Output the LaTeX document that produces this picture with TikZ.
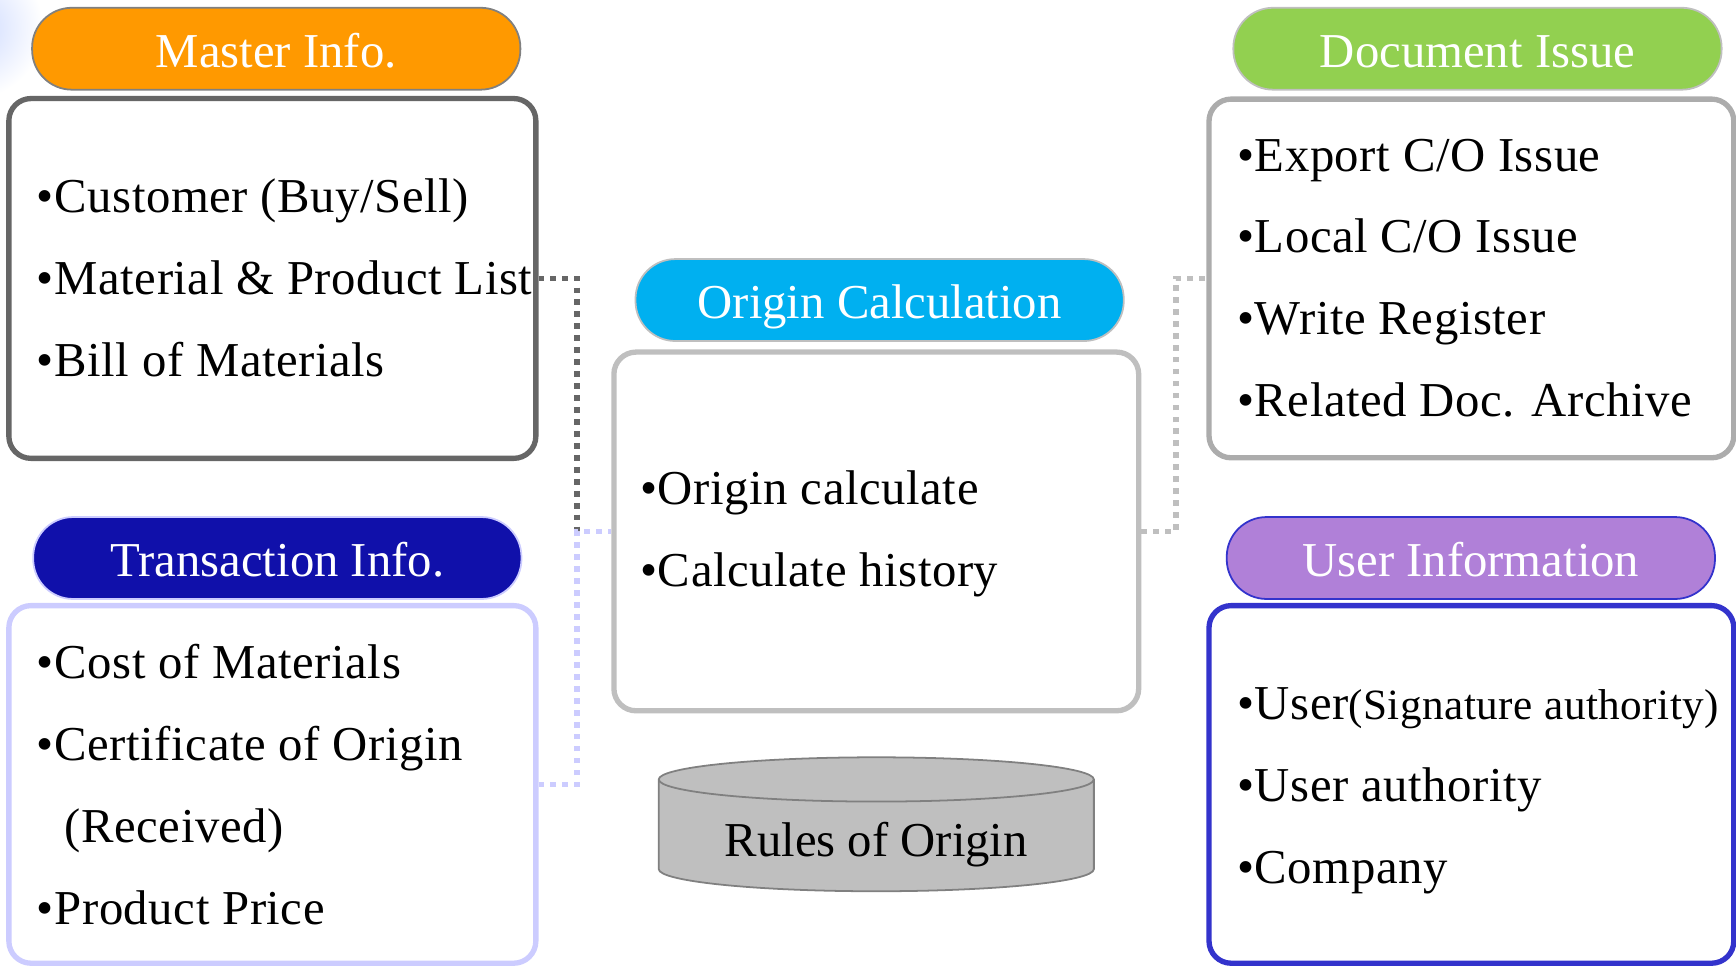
\documentclass[tikz,border=0pt]{standalone}
\usepackage{fontspec}
\setmainfont{Liberation Serif}
\newfontfamily\itemfont[LetterSpace=1.2]{Liberation Serif}
\usepackage{tikz}
\usetikzlibrary{positioning}

\definecolor{masterfill}{HTML}{FF9900}
\definecolor{transfill}{HTML}{1010AA}
\definecolor{calcfill}{HTML}{00B0F0}
\definecolor{docfill}{HTML}{92D050}
\definecolor{userfill}{HTML}{B080D8}
\definecolor{userline}{HTML}{3333CC}
\definecolor{transline}{HTML}{CCCCFF}
\definecolor{darkline}{HTML}{666666}
\definecolor{lightline}{HTML}{BFBFBF}

\begin{document}
\begin{tikzpicture}[x=0.5pt, y=-0.5pt,
	every node/.style={font=\fontsize{22}{26}\selectfont},
	pill/.style={draw, line width=0.8pt, rounded corners=18pt, minimum width=220.5pt,
		minimum height=37pt, inner sep=0pt, text height=17pt, text depth=0pt, text=white},
	panel/.style={draw, line width=2.4pt, fill=white, rounded corners=10pt,
		minimum width=237pt, minimum height=162pt, inner sep=0pt},
	item/.style={anchor=base west, inner sep=0pt, font=\itemfont\fontsize{22}{26}\selectfont},
	link/.style={line width=2.6pt, dash pattern=on 2.6pt off 2.8pt}]
	\useasboundingbox (0,0) rectangle (1568,873);
	% faint glow in the corner
	\begin{scope}
		\clip (0,0) rectangle (70,100);
		\shade[inner color=cyan!25!blue!20, outer color=white] (-25,25) circle (32pt);
	\end{scope}

	% boxes
	\node[panel, draw=darkline, minimum width=238pt, minimum height=162.5pt] (master) at (246,251.5) {};
	\node[panel, draw=transline, minimum width=238pt, minimum height=161.5pt] (trans) at (246,708.5) {};
	\node[panel, draw=lightline] (calc) at (791.5,480) {};
	\node[panel, draw=lightline!90!black] (doc) at (1329,251.5) {};
	\node[panel, draw=userline, minimum height=161.5pt] (user) at (1329,708.5) {};

	% connectors
	\draw[link, darkline] (master.east) -- ++(35,0) |- (calc.west);
	\draw[link, transline] (trans.east) -- ++(35,0) |- (calc.west);
	\draw[link, lightline] (calc.east) -- ++(31,0) |- (doc.west);

	% titles
	\node[pill, fill=masterfill, draw=gray] (mastertitle) at (249.5,44) {Master Info.};
	\node[pill, fill=transfill, draw=transline] (transtitle) at (250.5,504) {Transaction Info.};
	\node[pill, fill=calcfill, draw=lightline] (calctitle) at (794.5,271) {Origin Calculation};
	\node[pill, fill=docfill, draw=lightline] (doctitle) at (1334.5,44) {Document Issue};
	\node[pill, fill=userfill, draw=userline] (usertitle) at (1328.5,504) {User Information};

	% items
	\foreach \txt [count=\i] in {{Customer (Buy/Sell)}, {Material \& Product List}, {Bill of Materials}}
		\node[item] (mi\i) at (33,118+74*\i) {•\txt};
	\foreach \txt [count=\i] in {{•Cost of Materials}, {•Certificate of Origin}, {\hspace{12.5pt}(Received)}, {•Product Price}}
		\node[item] (ti\i) at (33,539+74*\i) {\txt};
	\foreach \txt [count=\i] in {{Origin calculate}, {Calculate history}}
		\node[item] (ci\i) at (578,382+74*\i) {•\txt};
	\foreach \txt [count=\i] in {{Export C/O Issue}, {Local C/O Issue}, {Write Register}, {Related Doc. Archive}}
		\node[item] (di\i) at (1117,81+73.7*\i) {•\txt};
	\foreach \txt [count=\i] in {{User{\fontsize{19.5}{22}\selectfont(Signature authority)}}, {User authority}, {Company}}
		\node[item] (ui\i) at (1117,576+74*\i) {•\txt};

	% rules of origin
	\draw[fill=lightline, draw=gray, line width=0.8pt] (595,704) -- (595,785)
		arc[start angle=180, end angle=360, x radius=98.25pt, y radius=10pt] -- (988,704)
		arc[start angle=0, end angle=180, x radius=98.25pt, y radius=10pt] -- cycle;
	\draw[draw=gray, line width=0.8pt] (595,704) arc[start angle=180, end angle=360, x radius=98.25pt, y radius=10pt];
	\node (rules) at (791.5,763) {Rules of Origin};
\end{tikzpicture}
\end{document}
